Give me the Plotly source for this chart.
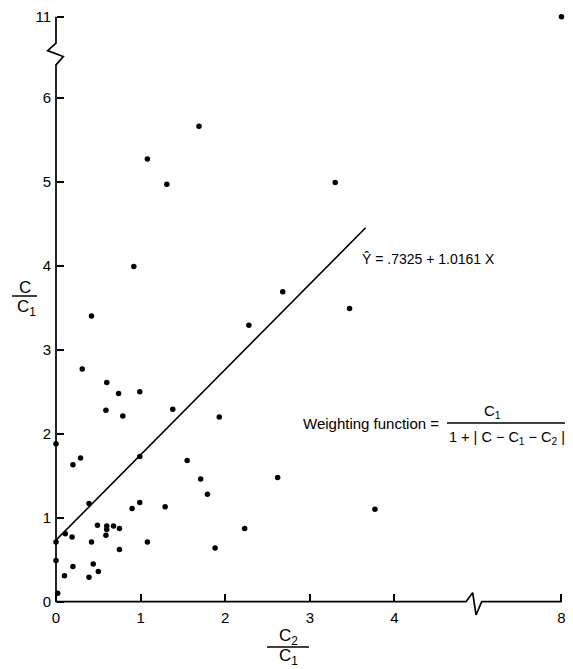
import plotly.graph_objects as go

# ---------------- data ----------------
ratio_c2_c1 = [0.00, 0.20, 0.29, 0.99, 0.39, 0.90, 0.99, 1.29, 0.11, 0.19,
               0.49, 0.60, 0.60, 0.59, 0.68, 0.75, 0.00, 0.42, 0.75, 1.08,
               0.00, 0.20, 0.44, 0.10, 0.39, 0.50, 0.02, 0.92, 0.42, 0.31,
               0.60, 0.74, 0.99, 0.59, 0.79, 1.38, 1.93, 2.28, 1.55, 1.71,
               1.79, 2.62, 2.23, 1.88, 1.08, 1.31, 1.69, 3.30, 2.68, 3.47,
               3.77, 8.00]
ratio_c_c1 = [1.88, 1.63, 1.71, 1.73, 1.17, 1.11, 1.18, 1.13, 0.81, 0.77,
              0.91, 0.90, 0.86, 0.79, 0.90, 0.87, 0.71, 0.71, 0.62, 0.71,
              0.49, 0.42, 0.45, 0.31, 0.29, 0.36, 0.10, 3.99, 3.40, 2.77,
              2.61, 2.48, 2.50, 2.28, 2.21, 2.29, 2.20, 3.29, 1.68, 1.46,
              1.28, 1.48, 0.87, 0.64, 5.27, 4.97, 5.66, 4.99, 3.69, 3.49,
              1.10, 11.00]

x_tick_values = [0, 1, 2, 3, 4, 8]
y_tick_values = [0, 1, 2, 3, 4, 5, 6, 11]

fit_intercept = 0.7325
fit_slope = 1.0161
fit_x_range = [0.0, 3.66]

# ---------------- broken-axis mapping ----------------
X_BREAK, X_FAR_VALUE, X_FAR_POS = 4.5, 8.0, 5.975
Y_BREAK, Y_FAR_VALUE, Y_FAR_POS = 6.5, 11.0, 6.965


def xmap(v):
    return v if v <= X_BREAK else X_FAR_POS + (v - X_FAR_VALUE) * 0.1


def ymap(v):
    return v if v <= Y_BREAK else Y_FAR_POS + (v - Y_FAR_VALUE) * 0.1


FONT = "Liberation Sans, Arial, Helvetica, sans-serif"
PAGE_W, PAGE_H = 573, 669
BODY_MARGIN = 8                      # default HTML body margin
W, H = PAGE_W - BODY_MARGIN, PAGE_H - BODY_MARGIN

# plot area in page pixels
PA_LEFT, PA_RIGHT, PA_TOP, PA_BOTTOM = 40, 565, 12, 620
ML = PA_LEFT - BODY_MARGIN
MR = (BODY_MARGIN + W) - PA_RIGHT
MT = PA_TOP - BODY_MARGIN
MB = (BODY_MARGIN + H) - PA_BOTTOM

X0_PX, Y0_PX = 56.0, 601.7          # page pixel position of the origin
PX_PER_X, PX_PER_Y = 84.6, 84.0

x_range = [-(X0_PX - PA_LEFT) / PX_PER_X, (PA_RIGHT - X0_PX) / PX_PER_X]
y_range = [-(PA_BOTTOM - Y0_PX) / PX_PER_Y, (Y0_PX - PA_TOP) / PX_PER_Y]


def px_to_paper_x(px):
    return (px - PA_LEFT) / (PA_RIGHT - PA_LEFT)


def py_to_paper_y(py):
    return (PA_BOTTOM - py) / (PA_BOTTOM - PA_TOP)


fig = go.Figure()

# axis lines with break marks
fig.add_trace(go.Scatter(
    x=[0, 4.846, 4.925, 4.965, 5.032, xmap(8)],
    y=[0, 0, 0.107, -0.158, 0, 0],
    mode="lines", line=dict(color="black", width=1.7),
    hoverinfo="skip", showlegend=False))
fig.add_trace(go.Scatter(
    x=[0, 0, 0.086, -0.098, 0, 0],
    y=[0, 6.39, 6.49, 6.56, 6.65, ymap(11)],
    mode="lines", line=dict(color="black", width=1.7),
    hoverinfo="skip", showlegend=False))

# regression line
fig.add_trace(go.Scatter(
    x=fit_x_range,
    y=[fit_intercept + fit_slope * v for v in fit_x_range],
    mode="lines", line=dict(color="black", width=1.6),
    hoverinfo="skip", showlegend=False))

# data points
fig.add_trace(go.Scatter(
    x=[xmap(v) for v in ratio_c2_c1],
    y=[ymap(v) for v in ratio_c_c1],
    mode="markers", marker=dict(color="black", size=5.5),
    cliponaxis=False, showlegend=False))

fig.update_xaxes(
    range=x_range, autorange=False, automargin=False,
    showgrid=False, zeroline=False, showline=False,
    tickmode="array", tickvals=[xmap(v) for v in x_tick_values],
    ticktext=[str(v) for v in x_tick_values],
    ticks="inside", ticklen=8, tickwidth=1.6, tickcolor="black",
    tickfont=dict(family=FONT, size=15, color="black"),
    ticklabeloverflow="allow",
    anchor="free", position=py_to_paper_y(Y0_PX), ticklabelstandoff=5)
fig.update_yaxes(
    range=y_range, autorange=False, automargin=False,
    showgrid=False, zeroline=False, showline=False,
    tickmode="array", tickvals=[ymap(v) for v in y_tick_values],
    ticktext=[str(v) for v in y_tick_values],
    ticks="inside", ticklen=7, tickwidth=1.6, tickcolor="black",
    tickfont=dict(family=FONT, size=15, color="black"),
    ticklabeloverflow="allow",
    anchor="free", position=px_to_paper_x(X0_PX), ticklabelstandoff=5)

annotations = [
    # equation
    dict(x=px_to_paper_x(360), y=py_to_paper_y(259), xref="paper", yref="paper",
         text="Ŷ = .7325 + 1.0161 X", showarrow=False, xanchor="left", yanchor="middle",
         font=dict(family=FONT, size=14, color="black")),
    # weighting function
    dict(x=px_to_paper_x(441), y=py_to_paper_y(423), xref="paper", yref="paper",
         text="Weighting function =", showarrow=False, xanchor="right", yanchor="middle",
         font=dict(family=FONT, size=15, color="black")),
    dict(x=px_to_paper_x(492), y=py_to_paper_y(411), xref="paper", yref="paper",
         text="C<sub>1</sub>", showarrow=False, xanchor="center", yanchor="middle",
         font=dict(family=FONT, size=15, color="black")),
    dict(x=px_to_paper_x(507), y=py_to_paper_y(438), xref="paper", yref="paper",
         text="1 + | C − C<sub>1</sub> − C<sub>2</sub> |", showarrow=False,
         xanchor="center", yanchor="middle",
         font=dict(family=FONT, size=14.5, color="black")),
    # y axis title
    dict(x=px_to_paper_x(25), y=py_to_paper_y(287), xref="paper", yref="paper",
         text="C", showarrow=False, xanchor="center", yanchor="middle",
         font=dict(family=FONT, size=17, color="black")),
    dict(x=px_to_paper_x(26), y=py_to_paper_y(308), xref="paper", yref="paper",
         text="C<sub>1</sub>", showarrow=False, xanchor="center", yanchor="middle",
         font=dict(family=FONT, size=17, color="black")),
    # x axis title
    dict(x=px_to_paper_x(288), y=py_to_paper_y(637), xref="paper", yref="paper",
         text="C<sub>2</sub>", showarrow=False, xanchor="center", yanchor="middle",
         font=dict(family=FONT, size=17, color="black")),
    dict(x=px_to_paper_x(288), y=py_to_paper_y(657), xref="paper", yref="paper",
         text="C<sub>1</sub>", showarrow=False, xanchor="center", yanchor="middle",
         font=dict(family=FONT, size=17, color="black")),
]

shapes = [
    dict(type="line", xref="paper", yref="paper",
         x0=px_to_paper_x(447), x1=px_to_paper_x(567),
         y0=py_to_paper_y(423), y1=py_to_paper_y(423),
         line=dict(color="black", width=1.3)),
    dict(type="line", xref="paper", yref="paper",
         x0=px_to_paper_x(12), x1=px_to_paper_x(37),
         y0=py_to_paper_y(296), y1=py_to_paper_y(296),
         line=dict(color="black", width=1.5)),
    dict(type="line", xref="paper", yref="paper",
         x0=px_to_paper_x(267), x1=px_to_paper_x(309),
         y0=py_to_paper_y(647), y1=py_to_paper_y(647),
         line=dict(color="black", width=1.5)),
]

fig.update_layout(
    template="none",
    width=W, height=H, autosize=False,
    margin=dict(l=ML, r=MR, t=MT, b=MB, pad=0, autoexpand=False),
    paper_bgcolor="white", plot_bgcolor="white",
    showlegend=False, annotations=annotations, shapes=shapes,
    font=dict(family=FONT, color="black"))

fig.write_html("out.html")
